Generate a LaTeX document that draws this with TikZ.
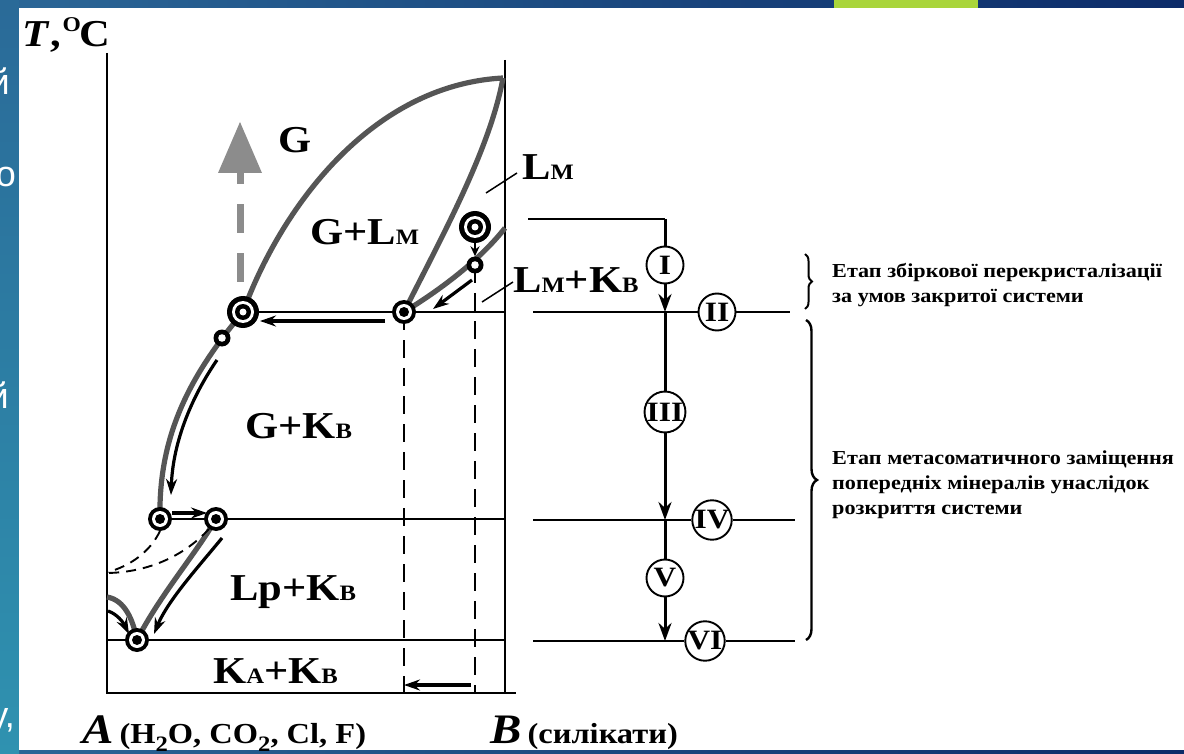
\documentclass[tikz,border=0pt]{standalone}
\usepackage{fontspec}
\setmainfont{Liberation Serif}[FakeStretch=1.12]
\newfontfamily\fragfont{Liberation Sans}
\usetikzlibrary{arrows.meta,decorations.pathreplacing,shapes.geometric}
\pgfdeclarelayer{back}
\pgfdeclarelayer{bg}
\pgfsetlayers{back,bg,main}
\definecolor{curvegray}{HTML}{555555}
\definecolor{arrowgray}{HTML}{8C8C8C}
\definecolor{bgA}{HTML}{2B6797}
\definecolor{bgB}{HTML}{0C2B69}
\definecolor{stripTop}{HTML}{2A6A98}
\definecolor{stripBot}{HTML}{2F92B0}
\definecolor{limebar}{HTML}{A9D53B}
\newcommand\lowcap[1]{{\fontsize{22}{22}\selectfont #1}}
\newcommand\subdig[1]{\raisebox{-0.28em}{\fontsize{22}{22}\selectfont #1}}
\tikzset{
  gcurve/.style={draw=curvegray, line width=5.2pt},
  axisline/.style={line width=2.2pt},
  hline/.style={line width=2.2pt},
  thinline/.style={line width=1.5pt},
  mainline/.style={line width=3pt},
  arr/.style={line width=3.2pt, -{Stealth[length=16pt,width=11pt]}},
  varr/.style={line width=3pt, -{Stealth[length=18pt,width=13pt]}},
  dshv/.style={line width=1.9pt, dash pattern=on 18pt off 10pt},
  dshc/.style={line width=1.9pt, dash pattern=on 10pt off 7pt},
  bigmark/.style={circle, fill=black, inner sep=0pt, minimum size=32pt,
    path picture={\fill[white] (path picture bounding box.center) circle (11pt);
      \fill[black] (path picture bounding box.center) circle (8pt);
      \fill[white] (path picture bounding box.center) circle (3.5pt);}},
  medmark/.style={circle, fill=black, inner sep=0pt, minimum size=24pt,
    path picture={\fill[white] (path picture bounding box.center) circle (8pt);
      \fill[black] (path picture bounding box.center) circle (5pt);}},
  smallmark/.style={circle, fill=black, inner sep=0pt, minimum size=17pt,
    path picture={\fill[white] (path picture bounding box.center) circle (3.8pt);}},
  lbl/.style={font=\fontsize{38}{38}\selectfont\bfseries, inner sep=0pt, anchor=base west},
  stage/.style={circle, draw, line width=1.9pt, fill=white, inner sep=0pt, minimum size=37pt,
    font=\fontsize{28}{28}\selectfont\bfseries},
  note/.style={font=\fontsize{19.8}{25}\selectfont\bfseries, inner sep=0pt, anchor=base west},
  frag/.style={font=\fontsize{36}{36}\fragfont, text=white, inner sep=0pt, anchor=base east},
}
\begin{document}
\begin{tikzpicture}[x=1pt,y=-1pt]
\useasboundingbox (0,0) rectangle (1184,754);
% ---------- background ----------
\begin{pgfonlayer}{back}
  \shade[left color=bgA, right color=bgB] (0,0) rectangle (1184,754);
  \shade[top color=stripTop, bottom color=stripBot] (0,0) rectangle (19,754);
  \fill[limebar] (834,0) rectangle (978,8);
  \node[frag] (f1) at (10,95) {й};
  \node[frag] (f2) at (16,187) {о};
  \node[frag] (f3) at (9,408) {й};
  \node[frag] (f4) at (15,727) {у,};
  \fill[white] (19,8) rectangle (1184,750);
\end{pgfonlayer}
% ---------- markers ----------
\node[bigmark] (P1) at (243,312) {};
\node[bigmark] (P2) at (475,227) {};
\node[medmark] (Q1) at (404,312) {};
\node[medmark] (Q2) at (160,519) {};
\node[medmark] (Q3) at (216,519) {};
\node[medmark] (Q4) at (137,640) {};
\node[smallmark] (S1) at (475,265) {};
\node[smallmark] (S2) at (222,338) {};
% ---------- stage circles ----------
\node[stage] (sI) at (665,265) {I};
\node[stage] (sII) at (717,312) {II};
\node[stage] (sIII) at (665,412) {III};
\node[stage] (sIV) at (712,520) {IV};
\node[stage] (sV) at (665,578) {V};
\node[stage] (sVI) at (705,641) {VI};
% ---------- coordinates ----------
\coordinate (axTL) at (107,53);
\coordinate (axBL) at (107,693);
\coordinate (axBR) at (516,693);
\coordinate (axTR) at (505,60);
\coordinate (axR) at (505,693);
\coordinate (top) at (503,78);
\coordinate (r312) at (505,312);
\coordinate (r519) at (505,519);
\coordinate (l640) at (107,640);
\coordinate (r640) at (505,640);
\coordinate (rLK) at (505,228);
\coordinate (d1) at (404,693);
\coordinate (d2) at (475,693);
\coordinate (lArc) at (107,597);
\coordinate (j2) at (665,312);
\coordinate (j4) at (665,520);
\coordinate (j6) at (665,641);
\coordinate (tl) at (528,219);
\coordinate (tc) at (665,219);
\coordinate (h2a) at (533,312);
\coordinate (h2b) at (790,312);
\coordinate (h4a) at (533,520);
\coordinate (h4b) at (795,520);
\coordinate (h6a) at (533,641);
\coordinate (h6b) at (795,641);
\coordinate (ga) at (240,282);
\coordinate (gb) at (240,172);
% ---------- lines (below markers) ----------
\begin{pgfonlayer}{bg}
  \draw[axisline] (axTL) -- (axBL) -- (axBR);
  \draw[axisline] (axTR) -- (axR);
  \draw[hline] (P1.center) -- (r312);
  \draw[hline] (Q2.center) -- (r519);
  \draw[hline] (l640) -- (r640);
  \draw[dshv] (Q1.center) -- (d1);
  \draw[dshv] (S1.center) -- (d2);
  % gray phase boundaries
  \draw[gcurve] (Q2.center) .. controls (158,430) and (195,370) .. (P1.center)
     .. controls (280,210) and (370,85) .. (top);
  \draw[gcurve] (Q1.center) .. controls (440,240) and (490,150) .. (top);
  \draw[gcurve] (Q1.center) .. controls (440,290) and (480,260) .. (rLK);
  \draw[gcurve] (Q3.center) .. controls (195,555) and (160,595) .. (Q4.center);
  \draw[gcurve] (lArc) .. controls (125,600) and (133,620) .. (Q4.center);
  % gray dashed arrow
  \draw[draw=arrowgray, line width=7pt, dash pattern=on 29pt off 20pt] (ga) -- (gb);
  \fill[arrowgray] (218,173) -- (240,122) -- (262,173) -- cycle;
  % black arrows in the diagram
  \draw[arr] (385,321) -- (260,321);
  \draw[arr] (472,280) -- (433,309);
  \draw[line width=2.6pt, -{Stealth[length=10pt,width=9pt]}] (P2.south) -- (S1.north);
  \draw[arr] (217,360) .. controls (193,395) and (173,440) .. (171,495);
  \draw[arr] (172,513) -- (207,513);
  \draw[arr] (222,538) .. controls (200,565) and (168,600) .. (154,634);
  \draw[arr] (108,611) .. controls (117,614) and (123,622) .. (129,634);
  \draw[dshc] (160,531) .. controls (150,552) and (130,566) .. (108,572);
  \draw[dshc] (209,529) .. controls (185,555) and (150,572) .. (108,573);
  \draw[arr] (471,685) -- (404,685);
  % leaders
  \draw[thinline] (486,193) -- (517,173);
  \draw[thinline] (482,302) -- (513,282);
  % stage diagram
  \draw[thinline] (tl) -- (tc);
  \draw[mainline] (tc) -- (sI.north);
  \draw[varr] (sI.south) -- (j2);
  \draw[mainline] (j2) -- (sIII.north);
  \draw[varr] (sIII.south) -- (j4);
  \draw[mainline] (j4) -- (sV.north);
  \draw[varr] (sV.south) -- (j6);
  \draw[thinline] (h2a) -- (sII.west);
  \draw[thinline] (sII.east) -- (h2b);
  \draw[thinline] (h4a) -- (sIV.west);
  \draw[thinline] (sIV.east) -- (h4b);
  \draw[thinline] (h6a) -- (sVI.west);
  \draw[thinline] (sVI.east) -- (h6b);
  % braces
  \draw[line width=2pt, decorate, decoration={brace, amplitude=7pt}] (805,254) -- (805,309);
  \draw[line width=2.4pt, decorate, decoration={brace, amplitude=11pt}] (806,320) -- (806,640);
\end{pgfonlayer}
% ---------- labels ----------
\node[font=\fontsize{38}{38}\selectfont\bfseries, inner sep=0pt, anchor=base west] (Tlab) at (22,47)
  {\textit{T}\kern0.02em,\kern0.04em\raisebox{0.42em}{\fontsize{21}{21}\selectfont O}\kern-0.04em C};
\node[lbl] (lG) at (278,153) {G};
\node[lbl] (lGL) at (310,245) {G+L\lowcap{М}};
\node[lbl] (lL) at (522,180) {L\lowcap{М}};
\node[lbl] (lLK) at (513,293) {L\lowcap{М}+K\lowcap{В}};
\node[lbl] (lGK) at (245,438) {G+K\lowcap{В}};
\node[lbl] (lLpK) at (230,600) {Lр+K\lowcap{В}};
\node[lbl] (lKK) at (213,683) {K\lowcap{A}+K\lowcap{В}};
\node[inner sep=0pt, anchor=base west] (lA) at (82,743)
  {{\fontsize{42}{42}\selectfont\bfseries\itshape A}\kern0.6em{\fontsize{29}{29}\selectfont\bfseries (H\subdig{2}O, CO\subdig{2}, Cl, F)}};
\node[inner sep=0pt, anchor=base west] (lB) at (490,743)
  {{\fontsize{42}{42}\selectfont\bfseries\itshape B}\kern0.6em{\fontsize{29}{29}\selectfont\bfseries (силікати)}};
\node[note] (n1a) at (832,277) {Етап збіркової перекристалізації};
\node[note] (n1b) at (832,302) {за умов закритої системи};
\node[note] (n2a) at (832,464) {Етап метасоматичного заміщення};
\node[note] (n2b) at (832,489) {попередніх мінералів унаслідок};
\node[note] (n2c) at (832,514) {розкриття системи};
\end{tikzpicture}
\end{document}
